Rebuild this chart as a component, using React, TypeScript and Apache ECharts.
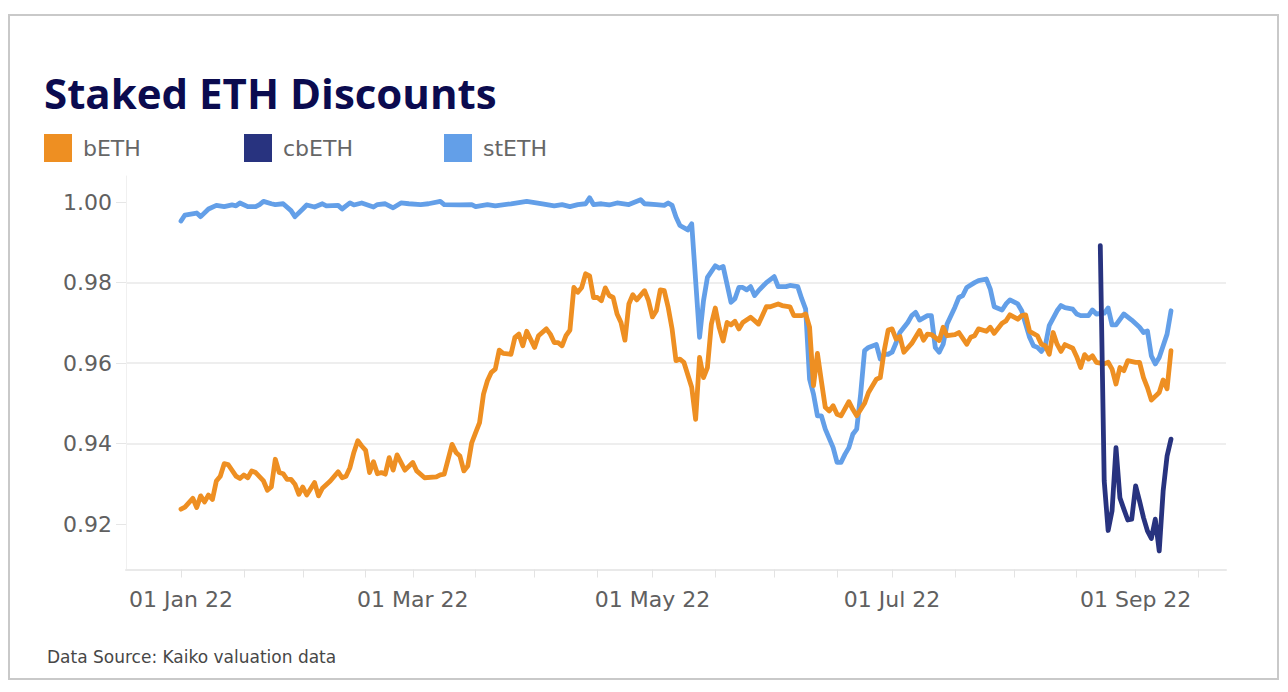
import React, { useEffect, useRef } from 'react';
import * as echarts from 'echarts';

// ---------- data ----------
const YEAR = '2022';
const xMinDate = '2021-12-18';
const xMaxDate = '2022-09-24';
const xTickDates = ['01-01', '01-17', '02-01', '02-17', '03-01', '03-17', '04-01', '04-17', '05-01', '05-17', '06-01', '06-17', '07-01', '07-17', '08-01', '08-17', '09-01', '09-17'];
const xLabelDates = ['01-01', '03-01', '05-01', '07-01', '09-01'];
const yTicks = [0.92, 0.94, 0.96, 0.98, 1.0];
const yMin = 0.9087;
const yMax = 1.0065;

const seriesNames = ['bETH', 'cbETH', 'stETH'];

const bethDates = ['01-01','01-02','01-04','01-05','01-06','01-07','01-08','01-09','01-10','01-11','01-12','01-13','01-15','01-16','01-17','01-18','01-19','01-20','01-22','01-23','01-24','01-25','01-26','01-27','01-28','01-29','01-30','01-31','02-01','02-02','02-04','02-05','02-06','02-08','02-10','02-11','02-12','02-13','02-14','02-15','02-16','02-17','02-18','02-19','02-20','02-21','02-22','02-23','02-24','02-25','02-27','03-01','03-02','03-04','03-07','03-08','03-09','03-11','03-12','03-13','03-14','03-15','03-16','03-17','03-18','03-19','03-20','03-21','03-22','03-23','03-24','03-26','03-27','03-28','03-29','03-30','04-01','04-02','04-04','04-05','04-06','04-07','04-08','04-09','04-10','04-11','04-12','04-13','04-14','04-15','04-16','04-17','04-18','04-19','04-20','04-21','04-22','04-23','04-24','04-25','04-26','04-27','04-29','04-30','05-01','05-02','05-03','05-04','05-05','05-06','05-07','05-08','05-09','05-11','05-12','05-13','05-14','05-15','05-16','05-17','05-18','05-19','05-20','05-21','05-22','05-23','05-24','05-26','05-28','05-30','05-31','06-02','06-03','06-05','06-06','06-08','06-09','06-10','06-11','06-12','06-13','06-14','06-15','06-16','06-17','06-18','06-20','06-21','06-22','06-24','06-25','06-27','06-28','06-29','06-30','07-01','07-02','07-03','07-04','07-06','07-08','07-09','07-10','07-11','07-13','07-14','07-15','07-17','07-18','07-20','07-21','07-22','07-23','07-25','07-26','07-27','07-29','07-30','07-31','08-02','08-03','08-04','08-05','08-07','08-08','08-09','08-10','08-11','08-12','08-13','08-14','08-16','08-17','08-18','08-19','08-20','08-21','08-22','08-24','08-25','08-26','08-27','08-28','08-29','08-30','09-01','09-02','09-03','09-04','09-05','09-07','09-08','09-09','09-10'];
const bethValues = [0.9237,0.9242,0.9264,0.9241,0.9270,0.9255,0.9272,0.9261,0.9307,0.9319,0.9350,0.9348,0.9319,0.9313,0.9322,0.9315,0.9332,0.9328,0.9307,0.9284,0.9292,0.9361,0.9328,0.9325,0.9311,0.9311,0.9299,0.9274,0.9292,0.9272,0.9303,0.9270,0.9289,0.9307,0.9330,0.9315,0.9319,0.9340,0.9378,0.9407,0.9394,0.9383,0.9328,0.9355,0.9325,0.9328,0.9324,0.9365,0.9334,0.9372,0.9334,0.9353,0.9332,0.9315,0.9317,0.9322,0.9324,0.9398,0.9378,0.9369,0.9332,0.9344,0.9402,0.9427,0.9452,0.9523,0.9556,0.9577,0.9585,0.9632,0.9624,0.9622,0.9664,0.9672,0.9643,0.9679,0.9639,0.9668,0.9685,0.9672,0.9651,0.9651,0.9643,0.9668,0.9682,0.9788,0.9776,0.9788,0.9822,0.9817,0.9763,0.9763,0.9755,0.9787,0.9768,0.9763,0.9722,0.9701,0.9657,0.9747,0.9770,0.9757,0.9780,0.9755,0.9715,0.9730,0.9782,0.9780,0.9739,0.9685,0.9606,0.9610,0.9602,0.9540,0.9460,0.9614,0.9564,0.9589,0.9697,0.9737,0.9688,0.9655,0.9701,0.9695,0.9704,0.9685,0.9701,0.9714,0.9697,0.9740,0.9740,0.9747,0.9743,0.9740,0.9718,0.9718,0.9722,0.9689,0.9544,0.9624,0.9556,0.9490,0.9481,0.9494,0.9473,0.9469,0.9504,0.9485,0.9469,0.9500,0.9527,0.9560,0.9564,0.9631,0.9682,0.9685,0.9660,0.9666,0.9627,0.9649,0.9681,0.9657,0.9672,0.9671,0.9656,0.9689,0.9668,0.9671,0.9676,0.9647,0.9664,0.9668,0.9685,0.9679,0.9689,0.9674,0.9699,0.9705,0.9720,0.9709,0.9718,0.9720,0.9679,0.9668,0.9647,0.9643,0.9622,0.9676,0.9647,0.9629,0.9646,0.9637,0.9616,0.9589,0.9621,0.9610,0.9618,0.9602,0.9598,0.9602,0.9585,0.9548,0.9589,0.9581,0.9606,0.9602,0.9602,0.9564,0.9539,0.9508,0.9527,0.9558,0.9536,0.9631];

const cbethDates = ['08-23','08-24','08-25','08-26','08-27','08-28','08-29','08-30','08-31','09-01','09-02','09-03','09-04','09-05','09-06','09-07','09-08','09-09','09-10'];
const cbethValues = [0.9892,0.9307,0.9184,0.9233,0.9390,0.9265,0.9237,0.9210,0.9212,0.9295,0.9257,0.9216,0.9183,0.9164,0.9212,0.9133,0.9282,0.9369,0.9411];

const stethDates = ['01-01','01-02','01-05','01-06','01-08','01-10','01-12','01-14','01-15','01-16','01-18','01-20','01-21','01-22','01-24','01-25','01-27','01-29','01-30','02-01','02-02','02-04','02-06','02-07','02-10','02-11','02-13','02-14','02-16','02-19','02-20','02-22','02-24','02-26','02-28','03-03','03-05','03-08','03-09','03-13','03-16','03-17','03-20','03-22','03-26','03-30','04-01','04-03','04-06','04-08','04-10','04-12','04-14','04-15','04-16','04-18','04-20','04-22','04-25','04-28','04-29','05-02','05-04','05-05','05-06','05-07','05-08','05-10','05-11','05-13','05-14','05-15','05-17','05-18','05-19','05-21','05-22','05-23','05-24','05-25','05-26','05-27','05-28','05-30','06-01','06-02','06-04','06-05','06-07','06-08','06-09','06-10','06-11','06-12','06-13','06-14','06-16','06-17','06-18','06-19','06-20','06-21','06-22','06-23','06-24','06-25','06-27','06-28','06-29','06-30','07-01','07-02','07-03','07-05','07-06','07-07','07-08','07-10','07-11','07-12','07-13','07-14','07-15','07-17','07-18','07-19','07-20','07-22','07-23','07-25','07-26','07-27','07-29','07-30','07-31','08-02','08-03','08-04','08-05','08-06','08-07','08-08','08-09','08-10','08-12','08-13','08-14','08-16','08-17','08-18','08-20','08-21','08-22','08-24','08-25','08-26','08-27','08-29','08-31','09-02','09-03','09-04','09-05','09-06','09-07','09-09','09-10'];
const stethValues = [0.9953,0.9968,0.9973,0.9964,0.9983,0.9992,0.9989,0.9993,0.9991,0.9998,0.9989,0.9989,0.9994,1.0002,0.9996,0.9994,0.9996,0.9979,0.9964,0.9983,0.9993,0.9988,0.9996,0.9991,0.9992,0.9983,0.9998,0.9993,0.9998,0.9988,0.9994,0.9996,0.9986,0.9998,0.9996,0.9994,0.9996,1.0002,0.9994,0.9993,0.9994,0.9989,0.9994,0.9991,0.9996,1.0002,0.9999,0.9996,0.9991,0.9994,0.9989,0.9994,0.9996,1.0011,0.9994,0.9996,0.9993,0.9998,0.9994,1.0006,0.9996,0.9994,0.9992,0.9998,0.9992,0.9963,0.9942,0.9931,0.9946,0.9664,0.9755,0.9813,0.9842,0.9836,0.9840,0.9751,0.9760,0.9788,0.9788,0.9782,0.9790,0.9768,0.9780,0.9800,0.9815,0.9790,0.9790,0.9793,0.9790,0.9760,0.9734,0.9560,0.9523,0.9469,0.9469,0.9436,0.9390,0.9353,0.9353,0.9373,0.9390,0.9423,0.9436,0.9523,0.9631,0.9639,0.9646,0.9610,0.9622,0.9622,0.9627,0.9650,0.9676,0.9701,0.9718,0.9726,0.9707,0.9718,0.9718,0.9639,0.9627,0.9647,0.9697,0.9739,0.9763,0.9768,0.9788,0.9800,0.9805,0.9809,0.9784,0.9740,0.9732,0.9747,0.9757,0.9747,0.9730,0.9697,0.9664,0.9643,0.9639,0.9629,0.9643,0.9693,0.9730,0.9743,0.9738,0.9734,0.9722,0.9718,0.9718,0.9732,0.9722,0.9724,0.9737,0.9695,0.9695,0.9722,0.9707,0.9689,0.9676,0.9680,0.9618,0.9598,0.9614,0.9672,0.9730];

// ---------- styles ----------
const COLORS: Record<string, string> = { bETH: '#ee8f22', cbETH: '#28337f', stETH: '#639fe8' };
const FONT = '"DejaVu Sans", sans-serif';
const MONTHS = ['Jan', 'Feb', 'Mar', 'Apr', 'May', 'Jun', 'Jul', 'Aug', 'Sep', 'Oct', 'Nov', 'Dec'];

const toTime = (full: string) => new Date(full + 'T00:00:00').getTime();
const md = (m: string) => toTime(`${YEAR}-${m}`);
const pair = (dates: string[], vals: number[]) => dates.map((d, i) => [md(d), vals[i]]);

const fmtDate = (v: number) => {
  const d = new Date(v);
  const dd = String(d.getDate()).padStart(2, '0');
  return `${dd} ${MONTHS[d.getMonth()]} ${String(d.getFullYear()).slice(2)}`;
};

export default function App() {
  const ref = useRef<HTMLDivElement>(null);

  useEffect(() => {
    if (!ref.current) return;
    const chart = echarts.init(ref.current, null, { renderer: 'svg' });

    const lineSeries = (name: string, data: any[], z: number) => ({
      name,
      type: 'line',
      data,
      z,
      showSymbol: false,
      symbol: 'none',
      smooth: false,
      color: COLORS[name],
      itemStyle: { color: COLORS[name] },
      lineStyle: { width: 4.8, color: COLORS[name], cap: 'round', join: 'round' },
      emphasis: { disabled: true },
    });

    const labelTimes = xLabelDates.map(md);

    chart.setOption({
      animation: false,
      backgroundColor: '#ffffff',
      title: [
        {
          text: 'Staked ETH Discounts',
          left: 44,
          top: 71,
          padding: 0,
          textStyle: { fontFamily: '"Open Sans", sans-serif', fontWeight: 700, fontSize: 42, color: '#0b0b4f' },
        },
        {
          text: 'Data Source: Kaiko valuation data',
          left: 47,
          top: 648,
          padding: 0,
          textStyle: { fontFamily: FONT, fontWeight: 'normal', fontSize: 17, color: '#474747' },
        },
      ],
      legend: seriesNames.map((n, i) => ({
        data: [n],
        left: 44 + i * 200,
        top: 134,
        padding: 0,
        itemWidth: 28,
        itemHeight: 28,
        icon: 'rect',
        selectedMode: false,
        itemStyle: { borderWidth: 0 },
        textStyle: { fontFamily: FONT, fontSize: 22, color: '#666666', padding: [0, 0, 0, 6] },
      })),
      graphic: [
        {
          type: 'rect',
          shape: { x: 9, y: 15, width: 1269, height: 664 },
          style: { fill: 'none', stroke: '#c9c9c9', lineWidth: 2 },
          silent: true,
        },
      ],
      grid: { left: 126, right: 62, top: 176, bottom: 122.5, containLabel: false },
      xAxis: {
        type: 'value',
        min: toTime(xMinDate),
        max: toTime(xMaxDate),
        axisLine: { show: true, lineStyle: { color: '#e9e9e9', width: 2 } },
        axisTick: {
          show: true,
          customValues: xTickDates.map(md),
          length: 8,
          lineStyle: { color: '#e3e3e3', width: 1 },
        },
        axisLabel: {
          customValues: labelTimes,
          formatter: (v: number) => (labelTimes.some((t) => Math.abs(t - v) < 1000) ? fmtDate(v) : ''),
          hideOverlap: false,
          margin: 19,
          fontFamily: FONT,
          fontSize: 22,
          color: '#606060',
        },
        splitLine: { show: false },
      },
      yAxis: {
        type: 'value',
        min: yMin,
        max: yMax,
        axisLine: { show: true, lineStyle: { color: '#f0f0f0', width: 1 } },
        axisTick: { show: true, length: 10, customValues: yTicks, lineStyle: { color: '#e6e6e6', width: 1 } },
        axisLabel: {
          customValues: yTicks,
          formatter: (v: number) => (yTicks.some((t) => Math.abs(t - v) < 1e-6) ? v.toFixed(2) : ''),
          margin: 14,
          fontFamily: FONT,
          fontSize: 22,
          color: '#606060',
        },
        splitLine: { show: true, showMinLine: false, showMaxLine: false, lineStyle: { color: '#eeeeee', width: 2 } },
      },
      series: [
        lineSeries('bETH', pair(bethDates, bethValues), 3),
        lineSeries('cbETH', pair(cbethDates, cbethValues), 4),
        lineSeries('stETH', pair(stethDates, stethValues), 2),
      ],
    });

    return () => chart.dispose();
  }, []);

  return (
    <div
      ref={ref}
      style={{ position: 'fixed', left: 0, top: 0, width: 1288, height: 692, background: '#ffffff' }}
    />
  );
}
